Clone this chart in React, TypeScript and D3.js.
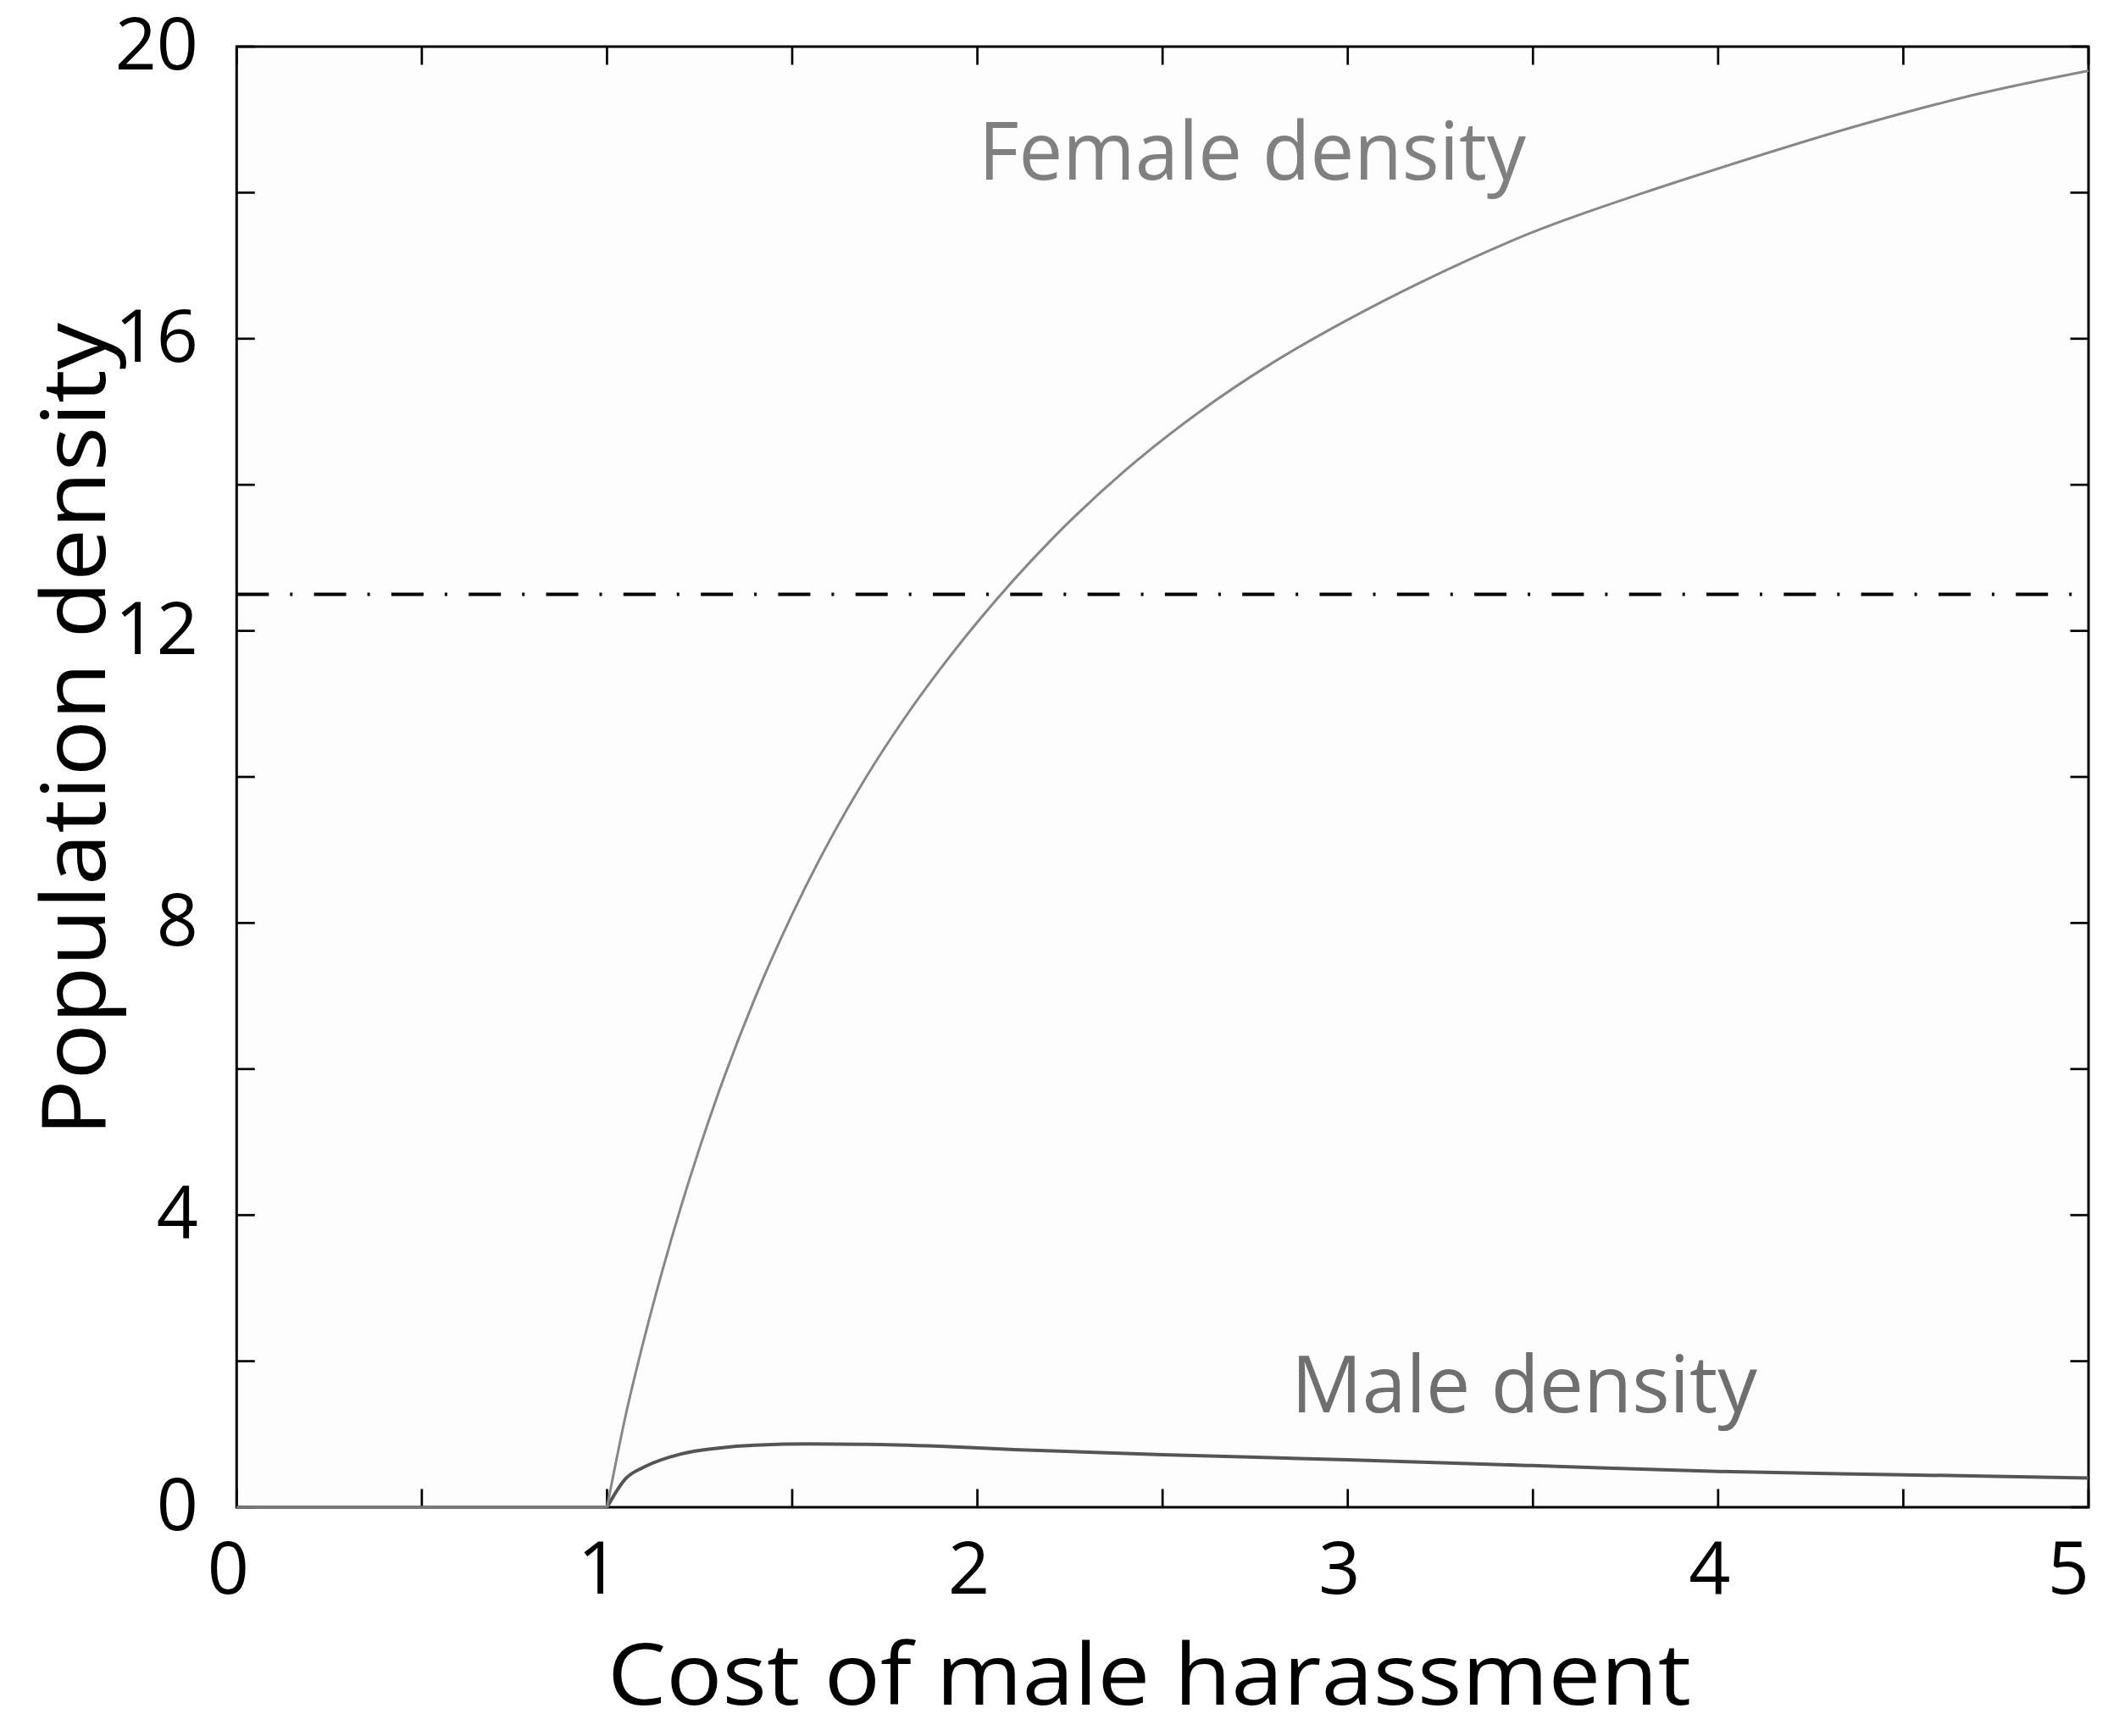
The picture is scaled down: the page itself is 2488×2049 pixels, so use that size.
import React from 'react';
import * as d3 from 'd3';

// ---- data ----
const femaleX = [0, 1.0, 1.05, 1.1, 1.15, 1.2, 1.25, 1.3, 1.4, 1.5, 1.6, 1.7, 1.8, 1.9, 2.0, 2.2, 2.4, 2.6, 2.8, 3.0, 3.2, 3.5, 3.8, 4.0, 4.4, 4.7, 5.0];
const femaleY = [0, 0, 1.25, 2.3, 3.25, 4.12, 4.92, 5.66, 6.98, 8.12, 9.12, 10.0, 10.78, 11.48, 12.12, 13.25, 14.2, 15.0, 15.68, 16.26, 16.78, 17.46, 18.0, 18.33, 18.95, 19.35, 19.67];
const maleX = [0, 1.0, 1.05, 1.1, 1.2, 1.3, 1.4, 1.55, 1.7, 1.9, 2.1, 2.5, 3.0, 3.5, 3.7, 4.0, 4.5, 5.0];
const maleY = [0, 0, 0.39, 0.55, 0.73, 0.81, 0.85, 0.866, 0.862, 0.835, 0.79, 0.72, 0.65, 0.57, 0.537, 0.49, 0.445, 0.4];
const thresholdValue = 12.5;

const xTickValues = [0, 0.5, 1, 1.5, 2, 2.5, 3, 3.5, 4, 4.5, 5];
const xLabelValues = [0, 1, 2, 3, 4, 5];
const yTickValues = [0, 2, 4, 6, 8, 10, 12, 14, 16, 18, 20];
const yLabelValues = [0, 4, 8, 12, 16, 20];

const xTitle = 'Cost of male harassment';
const yTitle = 'Population density';
const femaleLabel = 'Female density';
const maleLabel = 'Male density';

export default function App() {
  const W = 2488;
  const H = 2049;
  const L = 279.3, R = 2465, T = 55, B = 1779;
  const font = '"Open Sans", "Noto Sans", sans-serif';

  const x = d3.scaleLinear().domain([0, 5]).range([L, R]);
  const y = d3.scaleLinear().domain([0, 20]).range([B, T]);

  type P = [number, number];
  const fPts: P[] = femaleX.map((v, i) => [v, femaleY[i]]);
  const mPts: P[] = maleX.map((v, i) => [v, maleY[i]]);

  const flat = d3.line<P>().x(d => x(d[0])).y(d => y(d[1]));
  const smooth = d3.line<P>().x(d => x(d[0])).y(d => y(d[1])).curve(d3.curveMonotoneX);

  const split = (pts: P[]) => {
    const k = pts.findIndex(p => p[1] > 0) - 1;
    return { a: flat(pts.slice(0, k + 1)) || '', b: smooth(pts.slice(k)) || '' };
  };
  const f = split(fPts);
  const m = split(mPts);

  const tickLen = 21.5;

  return (
    <svg width={W} height={H} style={{ position: 'absolute', left: 0, top: 0, display: 'block', background: '#fff' }}>
      <rect x={L} y={T} width={R - L} height={B - T} fill="#fdfdfd" />

      {/* dash-dot threshold */}
      <line x1={L} x2={R} y1={y(thresholdValue)} y2={y(thresholdValue)} stroke="#000" strokeWidth={4}
        strokeDasharray="38 25 3 25.3" />

      {/* frame */}
      <rect x={L} y={T} width={R - L} height={B - T} fill="none" stroke="#000" strokeWidth={3} />

      {/* ticks */}
      {xTickValues.map(v => (
        <g key={'xt' + v}>
          <line x1={x(v)} x2={x(v)} y1={B} y2={B - tickLen} stroke="#000" strokeWidth={2.7} />
          <line x1={x(v)} x2={x(v)} y1={T} y2={T + tickLen} stroke="#000" strokeWidth={2.7} />
        </g>
      ))}
      {yTickValues.map(v => (
        <g key={'yt' + v}>
          <line x1={L} x2={L + tickLen} y1={y(v)} y2={y(v)} stroke="#000" strokeWidth={2.7} />
          <line x1={R} x2={R - tickLen} y1={y(v)} y2={y(v)} stroke="#000" strokeWidth={2.7} />
        </g>
      ))}

      {/* curves */}
      <path d={m.a} fill="none" stroke="#555" strokeWidth={3} />
      <path d={m.b} fill="none" stroke="#555" strokeWidth={4} strokeLinejoin="round" />
      <path d={f.a} fill="none" stroke="#7a7a7a" strokeWidth={3} />
      <path d={f.b} fill="none" stroke="#878787" strokeWidth={3} strokeLinejoin="round" />

      {/* tick labels */}
      {yLabelValues.map(v => (
        <text key={'yl' + v} x={234} y={y(v) + 27} textAnchor="end" fontFamily={font} fontSize={86} fill="#000">
          {String(v)}
        </text>
      ))}
      {xLabelValues.map((v, i) => {
        const last = i === xLabelValues.length - 1;
        return (
          <text key={'xl' + v} x={last ? R + 1 : x(v) - 10} y={1881} textAnchor={last ? 'end' : 'middle'}
            fontFamily={font} fontSize={86} fill="#000">
            {String(v)}
          </text>
        );
      })}

      {/* axis titles */}
      <text x={717} y={2012} fontFamily={font} fontSize={100} fill="#000" textLength={1279} lengthAdjust="spacingAndGlyphs">
        {xTitle}
      </text>
      <text transform={`translate(124, 1341) rotate(-90)`} fontFamily={font} fontSize={104} fill="#000"
        textLength={960} lengthAdjust="spacingAndGlyphs">
        {yTitle}
      </text>

      {/* series labels */}
      <text x={1155} y={212} fontFamily={font} fontSize={95} fill="#808080" textLength={646} lengthAdjust="spacingAndGlyphs">
        {femaleLabel}
      </text>
      <text x={1524} y={1667} fontFamily={font} fontSize={94} fill="#6f6f6f" textLength={550} lengthAdjust="spacingAndGlyphs">
        {maleLabel}
      </text>
    </svg>
  );
}
